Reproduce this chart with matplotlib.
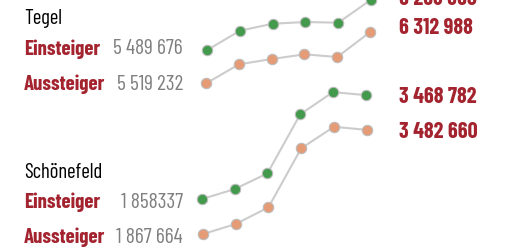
import matplotlib
matplotlib.use("Agg")
import matplotlib.pyplot as plt

# passengers per year (six years), in persons
years = [0, 1, 2, 3, 4, 5]
tegel_ein = [5489676, 5789000, 5897000, 5924000, 5913000, 6268360]
tegel_aus = [5519232, 5814000, 5896000, 5969000, 5927000, 6312988]
schoen_ein = [1858337, 2013000, 2257000, 3171000, 3517000, 3468782]
schoen_aus = [1867664, 2023000, 2282000, 3196000, 3531000, 3482660]

start_labels = ["5 489 676", "5 519 232", "1 858337", "1 867 664"]
end_labels = ["6 268 360", "6 312 988", "3 468 782", "3 482 660"]
groups = ["Tegel", "Schönefeld"]
row_names = ["Einsteiger", "Aussteiger"]

RED = "#a3232f"
GREEN = "#449a4c"
ORANGE = "#e59b76"
GREY = "#7f7f7f"
FONT = ["Barlow Condensed", "Archivo Narrow", "DejaVu Sans"]

fig = plt.figure(figsize=(5.1, 2.47), dpi=100)
ax = fig.add_axes([0, 0, 1, 1])
ax.set_xlim(-6.327, 9.246)
ax.set_ylim(-3.829, 0)
ax.axis("off")

# layout: vertical shift (in millions) and horizontal shift per series
series = [
    (tegel_ein, GREEN, 6.265, 0.0),
    (tegel_aus, ORANGE, 6.811, -0.03),
    (schoen_ein, GREEN, 4.944, -0.16),
    (schoen_aus, ORANGE, 5.496, -0.13),
]

for vals, col, shift, xs in series:
    xx = [y + xs for y in years]
    yy = [v / 1e6 - shift for v in vals]
    ax.plot(xx, yy, color="#cccccc", lw=1.5, zorder=1, clip_on=False)
    ax.plot(xx, yy, "o", ms=7.5, mfc=col, mec="#bdbdbd", mew=0.8,
            zorder=2, clip_on=False)

# text positions in pixels from top-left
def px(x, y):
    return (x / 510, 1 - y / 247)

kw = dict(family=FONT, va="center")
label_y = [49, 84, 202, 237]
title_y = [18, 172]
for g, ty in zip(groups, title_y):
    fig.text(*px(24, ty), g, fontsize=15, color="black", ha="left", **kw)
for k in range(4):
    fig.text(*px(24, label_y[k]), row_names[k % 2], fontsize=15,
             fontweight="bold", color=RED, ha="left", **kw)
    fig.text(*px(183, label_y[k]), start_labels[k], fontsize=15.5,
             color=GREY, ha="right", **kw)

end_y = [-1, 28, 97, 132]
for k in range(4):
    fig.text(*px(399, end_y[k]), end_labels[k], fontsize=16,
             fontweight="bold", color=RED, ha="left", **kw)

fig.savefig("out.png", dpi=100)
